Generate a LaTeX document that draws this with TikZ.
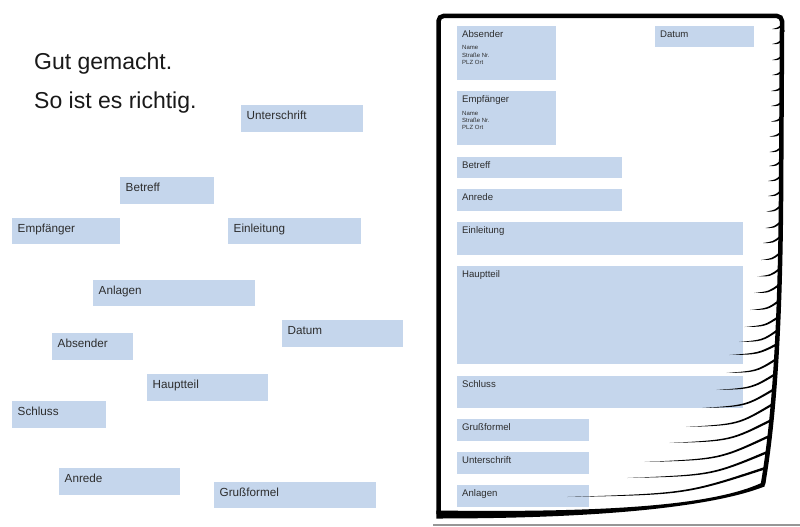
\documentclass[tikz,border=0pt]{standalone}
\usepackage{fontspec}
\setmainfont{Liberation Sans}
\definecolor{boxblue}{RGB}{197,214,236}
\definecolor{txt}{RGB}{45,45,45}
\definecolor{ttl}{RGB}{25,25,25}
\definecolor{rule}{RGB}{150,150,150}
\tikzset{
  box/.style={fill=boxblue, draw=none, inner sep=0pt, outer sep=0pt, anchor=north west},
  lbl/.style={inner sep=0pt, anchor=base west, text=txt, font=\fontsize{11.7}{14}\selectfont},
  plbl/.style={inner sep=0pt, anchor=base west, text=txt, font=\fontsize{9.6}{11}\selectfont},
  tiny/.style={inner sep=0pt, anchor=base west, text=txt, font=\fontsize{6}{7}\selectfont},
  ttlstyle/.style={inner sep=0pt, anchor=base west, text=ttl, font=\fontsize{23}{27}\selectfont},
  paperline/.style={line width=4.5pt, draw=black},
}
\newcommand\lbox[6]{%
  \node[box, minimum width={(#4-#2)*1pt}, minimum height={(#5-#3)*1pt}] (#1) at (#2,#3) {};
  \node[lbl] (#1t) at ([shift={(5.5,14)}]#1.north west) {#6};}
\newcommand\pbox[6]{%
  \node[box, minimum width={(#4-#2)*1pt}, minimum height={(#5-#3)*1pt}] (#1) at (#2,#3) {};
  \node[plbl] (#1t) at ([shift={(5,11.5)}]#1.north west) {#6};}
\newcommand\addr[1]{%
  \node[tiny] (#1a) at ([shift={(5,24)}]#1.north west) {Name};
  \node[tiny] (#1b) at ([shift={(5,31)}]#1.north west) {Straße Nr.};
  \node[tiny] (#1c) at ([shift={(5,38)}]#1.north west) {PLZ Ort};}
\begin{document}
\begin{tikzpicture}[x=1pt,y=-1pt]
\useasboundingbox (0,0) rectangle (800,527);
\fill[white] (0,0) rectangle (800,527);
% title
\node[ttlstyle] (t1) at (34,70) {Gut gemacht.};
\node[ttlstyle] (t2) at (34,108) {So ist es richtig.};
% loose boxes
\lbox{lU}{241}{105}{363}{132}{Unterschrift}
\lbox{lB}{120}{177}{214}{204}{Betreff}
\lbox{lE}{12}{218}{120}{244}{Empfänger}
\lbox{lEi}{228}{218}{361}{244}{Einleitung}
\lbox{lAn}{93}{280}{255}{306}{Anlagen}
\lbox{lD}{282}{320}{403}{347}{Datum}
\lbox{lAb}{52}{333}{133}{360}{Absender}
\lbox{lH}{147}{374}{268}{401}{Hauptteil}
\lbox{lS}{12}{401}{106}{428}{Schluss}
\lbox{lAr}{59}{468}{180}{495}{Anrede}
\lbox{lG}{214}{482}{376}{508}{Grußformel}
% boxes on the sheet
\pbox{pAb}{457}{26}{556}{80}{Absender}
\addr{pAb}
\pbox{pD}{655}{26}{754}{47}{Datum}
\pbox{pE}{457}{91}{556}{145}{Empfänger}
\addr{pE}
\pbox{pB}{457}{157}{622}{178}{Betreff}
\pbox{pAr}{457}{189}{622}{211}{Anrede}
\pbox{pEi}{457}{222}{743}{255}{Einleitung}
\pbox{pH}{457}{266}{743}{364}{Hauptteil}
\pbox{pS}{457}{376}{743}{408}{Schluss}
\pbox{pG}{457}{419}{589}{441}{Grußformel}
\pbox{pU}{457}{452}{589}{474}{Unterschrift}
\pbox{pAn}{457}{485}{589}{507}{Anlagen}
% page curl strokes
\foreach \ye/\xe/\L/\D in {
  25/782/10/4, 40/782/10/4, 56/782/10/4, 71/782/10/4, 87/782/11/4,
  102/782/11/4, 117/782/11/4.5, 132/781.5/12/4.5, 147/781.5/12/5,
  161/781/12/5, 176/781/13/5, 191/781/13/5, 206/780.5/14/5.5,
  222/780.5/15/6, 237/780/17/6, 253/780/19/7, 269/779.5/22/7.5,
  285/779/25/8, 301/779/29/9, 317/778.5/34/10, 330/778/39/12,
  344/777.5/48/11, 359/776.5/50/14, 374/775.5/59/16, 389/774.5/72/19,
  404/773/87/23, 420/771.5/102/23, 436/769.5/125/26, 452/767.5/140/26,
  468/765.5/198/29}{
  \fill (\xe,\ye-1.3) .. controls ({\xe-0.4*\L},{\ye+0.9*\D-1.0}) .. ({\xe-\L},{\ye+\D})
        .. controls ({\xe-0.4*\L},{\ye+0.9*\D+0.7}) .. (\xe,\ye+1.3) -- cycle;
}
% sheet outline
\draw[paperline, rounded corners=5pt] (438.5,514) -- (438.5,16) -- (782,16) -- (782,32);
\draw[paperline] (782,30) -- (781,200) .. controls (780,330) and (774,420) .. (763,484);
\fill (436.3,510.5) .. controls (620,513) and (720,504) .. (765.5,481)
      -- (764.5,486.5) .. controls (712,507) and (600,518.5) .. (436.3,518.5) -- cycle;
% bottom rule
\draw[rule, line width=1.5pt] (433,525) -- (800,525);
\end{tikzpicture}
\end{document}
